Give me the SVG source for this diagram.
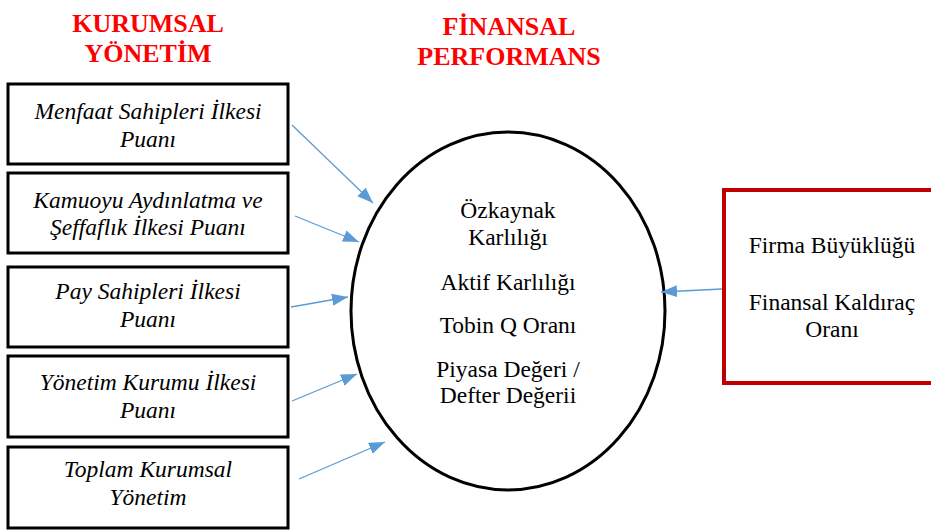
<svg xmlns="http://www.w3.org/2000/svg" width="931" height="530" viewBox="0 0 931 530">
<style>
.head{font-family:"Liberation Serif",serif;font-weight:bold;font-size:26px;fill:#ff0000;text-anchor:middle}
.box{fill:#fff;stroke:#000;stroke-width:3}
.it{font-family:"Liberation Serif",serif;font-style:italic;font-size:23.5px;fill:#000;text-anchor:middle}
.rg{font-family:"Liberation Serif",serif;font-size:23.5px;fill:#000;text-anchor:middle}
.arr{stroke:#5b9bd5;stroke-width:1.3;fill:none;marker-end:url(#ah)}
</style>
<defs>
<marker id="ah" markerUnits="userSpaceOnUse" markerWidth="17" markerHeight="13" refX="16" refY="6" orient="auto">
<path d="M0,0 L16,6 L0,12 z" fill="#5b9bd5"/>
</marker>
</defs>
<rect width="931" height="530" fill="#fff"/>
<g id="heading-left">
<text class="head" x="148" y="32">KURUMSAL</text>
<text class="head" x="148" y="62">YÖNETİM</text>
</g>
<g id="heading-right">
<text class="head" x="509" y="35">FİNANSAL</text>
<text class="head" x="509" y="65">PERFORMANS</text>
</g>
<g id="n1">
<rect class="box" x="8" y="84" width="280" height="80"/>
<text class="it" x="148" y="119">Menfaat Sahipleri İlkesi</text>
<text class="it" x="148" y="147">Puanı</text>
</g>
<g id="n2">
<rect class="box" x="8" y="173" width="280" height="80"/>
<text class="it" x="148" y="208">Kamuoyu Aydınlatma ve</text>
<text class="it" x="148" y="235">Şeffaflık İlkesi Puanı</text>
</g>
<g id="n3">
<rect class="box" x="8" y="267" width="280" height="80"/>
<text class="it" x="148" y="299">Pay Sahipleri İlkesi</text>
<text class="it" x="148" y="327">Puanı</text>
</g>
<g id="n4">
<rect class="box" x="8" y="356" width="280" height="81"/>
<text class="it" x="148" y="390">Yönetim Kurumu İlkesi</text>
<text class="it" x="148" y="418">Puanı</text>
</g>
<g id="n5">
<rect class="box" x="8" y="447" width="280" height="81"/>
<text class="it" x="148" y="477">Toplam Kurumsal</text>
<text class="it" x="148" y="505">Yönetim</text>
</g>
<g id="center">
<ellipse cx="508" cy="311" rx="157" ry="179" fill="#fff" stroke="#000" stroke-width="3"/>
<text class="rg" x="508" y="218">Özkaynak</text>
<text class="rg" x="508" y="245">Karlılığı</text>
<text class="rg" x="508" y="290">Aktif Karlılığı</text>
<text class="rg" x="508" y="333">Tobin Q Oranı</text>
<text class="rg" x="508" y="377">Piyasa Değeri /</text>
<text class="rg" x="508" y="403">Defter Değerii</text>
</g>
<g id="control">
<rect x="724" y="190" width="212" height="193" fill="#fff" stroke="#c00000" stroke-width="4"/>
<text class="rg" x="832" y="253">Firma Büyüklüğü</text>
<text class="rg" x="832" y="310">Finansal Kaldıraç</text>
<text class="rg" x="832" y="337">Oranı</text>
</g>
<g id="connectors">
<line class="arr" x1="292" y1="125" x2="373" y2="203"/>
<line class="arr" x1="295" y1="216" x2="359" y2="242"/>
<line class="arr" x1="291" y1="307" x2="348" y2="297"/>
<line class="arr" x1="292" y1="401" x2="357" y2="374"/>
<line class="arr" x1="299" y1="479" x2="385" y2="442"/>
<line class="arr" x1="722" y1="289" x2="661" y2="292"/>
</g>
</svg>
